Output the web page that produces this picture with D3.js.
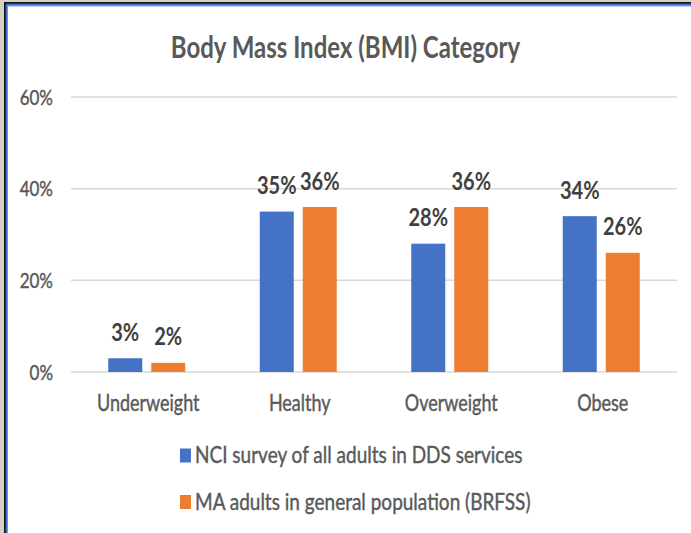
<!DOCTYPE html>
<html><head><meta charset="utf-8">
<script src="https://cdn.jsdelivr.net/npm/d3@7"></script>
<style>
body{margin:0;background:#fff}
svg{display:block}
text{font-family:Lato,"Open Sans",sans-serif}
</style>
</head><body>
<svg id="c" width="691" height="533"></svg>
<script>
const categories = ["Underweight", "Healthy", "Overweight", "Obese"];
const seriesNames = ["NCI survey of all adults in DDS services", "MA adults in general population (BRFSS)"];
const nciValues = [3, 35, 28, 34];
const brfssValues = [2, 36, 36, 26];
const yTicks = [0, 20, 40, 60];
const titleText = "Body Mass Index (BMI) Category";
const seriesColors = ["#4472c4", "#ed7d31"];

const seriesValues = [nciValues, brfssValues];
const SY = 1.25;

const svg = d3.select("#c");
const W = 691, H = 533;

// frame
svg.append("rect").attr("x",0).attr("y",0).attr("width",W).attr("height",H).attr("fill","#d6d2c2");
svg.append("rect").attr("x",4).attr("y",2).attr("width",W-4).attr("height",H-2).attr("fill","#111");
svg.append("rect").attr("x",5.5).attr("y",3.5).attr("width",W-5.5).attr("height",H-3.5).attr("fill","#3a66c9");
svg.append("rect").attr("x",7).attr("y",5).attr("width",W-7).attr("height",H-5).attr("fill","#6f95e0");
svg.append("rect").attr("x",8).attr("y",6.5).attr("width",W-8).attr("height",H-6.5).attr("fill","#ffffff");

const x0 = d3.scaleBand().domain(categories).range([71, 677]).paddingInner(0).paddingOuter(0);
const groupW = 77;
const x1 = d3.scaleBand().domain(d3.range(seriesNames.length))
  .range([(x0.bandwidth()-groupW)/2, (x0.bandwidth()+groupW)/2]).paddingInner(9/43);
const y = d3.scaleLinear().domain([0, 60]).range([372, 97]);

function stext(g, x, yy, txt, opts) {
  const fill = opts.fill || "#595959";
  const t = g.append("text")
    .attr("transform", `translate(${x},${yy}) scale(${opts.sx||1},${SY})`)
    .attr("text-anchor", opts.anchor || "middle")
    .attr("font-size", opts.size)
    .attr("font-weight", opts.weight || 400)
    .attr("fill", fill)
    .attr("stroke", fill)
    .attr("stroke-width", opts.sw == null ? 0.35 : opts.sw)
    .text(txt);
  return t;
}

// gridlines
const grid = svg.append("g");
yTicks.forEach(t => {
  grid.append("line").attr("x1", 71).attr("x2", 677).attr("y1", y(t)).attr("y2", y(t))
    .attr("stroke", "#d9d9d9").attr("stroke-width", 1.5);
  stext(grid, 53, y(t) + 7.5, t + "%", {anchor: "end", size: 17, fill: "#595959"});
});

// bars
const bars = svg.append("g");
categories.forEach((c, i) => {
  seriesValues.forEach((vals, s) => {
    const v = vals[i];
    const bx = x0(c) + x1(s);
    bars.append("rect").attr("x", bx).attr("y", y(v)).attr("width", x1.bandwidth())
      .attr("height", y(0) - y(v)).attr("fill", seriesColors[s]);
    stext(bars, bx + x1.bandwidth()/2, y(v) - 17.5, v + "%", {size: 20, weight: 700, fill: "#404040", sw: 0});
  });
  stext(bars, x0(c) + x0.bandwidth()/2 + 1.5, 411, c, {size: 18, fill: "#595959"});
});

// title
stext(svg, 345.5, 58, titleText, {size: 24, weight: 700, fill: "#595959", sw: 0});

// legend
const leg = svg.append("g");
const legY = [448.5, 495];
seriesNames.forEach((n, s) => {
  leg.append("rect").attr("x", 180).attr("y", legY[s]).attr("width", 11).attr("height", 14).attr("fill", seriesColors[s]);
  stext(leg, 195, legY[s] + 14.5, n, {anchor: "start", size: 19, fill: "#595959"});
});
</script>
</body></html>
